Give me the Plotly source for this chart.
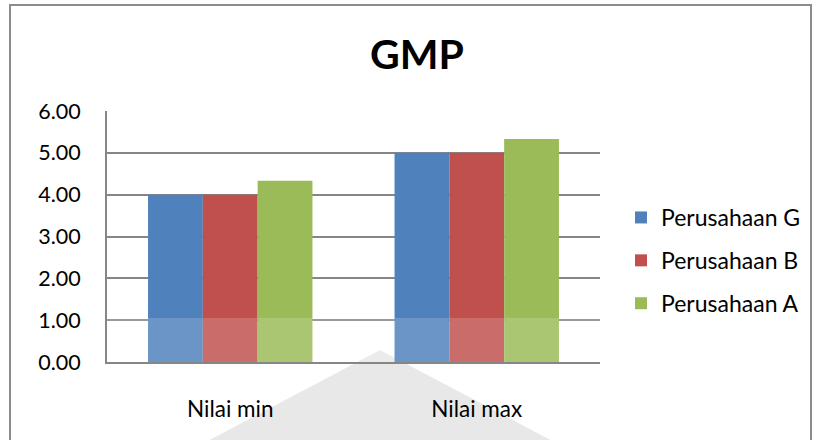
import plotly.graph_objects as go

categories = ["Nilai min", "Nilai max"]
series_names = ["Perusahaan G", "Perusahaan B", "Perusahaan A"]
values_g = [4.00, 5.00]
values_b = [4.00, 5.00]
values_a = [4.33, 5.33]
colors = ["#4F81BD", "#C0504D", "#9BBB59"]
y_ticks = [0, 1, 2, 3, 4, 5, 6]
y_tick_labels = ["0.00", "1.00", "2.00", "3.00", "4.00", "5.00", "6.00"]

W, H = 815, 440
L, R, T, B = 107, 215, 111, 78
pw, ph = W - L - R, H - T - B

def px(x):
    return (x - L) / pw

def py(y):
    return (H - B - y) / ph

FONT = "Lato"

fig = go.Figure()
for i, (name, vals) in enumerate(zip(series_names, [values_g, values_b, values_a])):
    fig.add_trace(go.Bar(
        x=categories, y=vals, name=name,
        marker=dict(color=colors[i], line=dict(width=0)),
        legendgroup=name,
    ))

shapes = [
    # outer chart border
    dict(type="rect", xref="paper", yref="paper",
         x0=px(10), x1=px(811), y0=py(470), y1=py(5),
         line=dict(color="#8c8c8c", width=2), fillcolor="rgba(0,0,0,0)", layer="below"),
    # faint watermark triangle
    dict(type="path", xref="paper", yref="paper",
         path=f"M {px(380)} {py(350)} L {px(560)} {py(445)} L {px(200)} {py(445)} Z",
         fillcolor="#e8e8e8", line=dict(width=0), layer="below"),
    # watermark lightening band over bar bottoms
    dict(type="rect", xref="paper", yref="paper",
         x0=px(107), x1=px(600), y0=py(362), y1=py(318),
         fillcolor="rgba(255,255,255,0.16)", line=dict(width=0), layer="above"),
]

fig.update_layout(
    width=W, height=H,
    margin=dict(l=L, r=R, t=T, b=B, autoexpand=False),
    paper_bgcolor="white", plot_bgcolor="white",
    barmode="group", bargap=0.333, bargroupgap=0,
    title=dict(text="<b>GMP</b>", x=px(417), xanchor="center", xref="paper",
               y=1 - 55 / H, yanchor="middle",
               font=dict(family=FONT, size=41, color="black")),
    font=dict(family=FONT, color="black"),
    xaxis=dict(showgrid=False, showline=True, linecolor="#868686", linewidth=2,
               ticks="", tickfont=dict(size=22.5, family=FONT), ticklabelstandoff=26,
               zeroline=False, automargin=False),
    yaxis=dict(range=[0, 6], tickvals=y_ticks, ticktext=y_tick_labels,
               showgrid=True, gridcolor="#868686", gridwidth=2,
               showline=True, linecolor="#868686", linewidth=2,
               ticks="", tickfont=dict(size=21.5, family=FONT), ticklabelstandoff=20,
               zeroline=False, automargin=False),
    legend=dict(x=px(621), xanchor="left", y=py(196), yanchor="top",
                font=dict(size=23, family=FONT), traceorder="grouped",
                tracegroupgap=10, itemwidth=30, bgcolor="rgba(0,0,0,0)"),
    shapes=shapes,
    showlegend=True,
)

fig.write_html("out.html")
